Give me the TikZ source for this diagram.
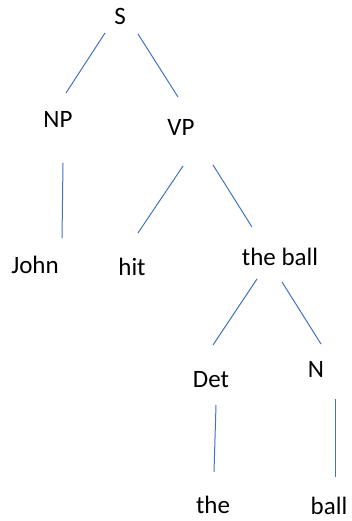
\documentclass[tikz,border=0pt]{standalone}
\usepackage{fontspec}
\setmainfont{Carlito}
\definecolor{edgeblue}{HTML}{4472C4}
\begin{document}
\begin{tikzpicture}[x=1pt,y=-1pt,
  lbl/.style={anchor=base,inner sep=0pt,font=\fontsize{25}{30}\selectfont,text=black},
  edge/.style={draw=edgeblue,line width=1pt}]
\useasboundingbox (0,0) rectangle (352,521);
% labels
\node[lbl] (S) at (120,25) {S};
\node[lbl] (NP) at (58,128) {NP};
\node[lbl] (VP) at (181,136) {VP};
\node[lbl] (John) at (35,273) {John};
\node[lbl] (hit) at (132,275) {hit};
\node[lbl] (theball) at (280,265) {the ball};
\node[lbl] (Det) at (211,387) {Det};
\node[lbl] (N) at (316,377) {N};
\node[lbl] (the) at (213,513) {the};
\node[lbl] (ball) at (329,514) {ball};
% connector ends
\coordinate (S-a) at (105,33);  \coordinate (NP-t) at (66,93);
\coordinate (S-b) at (138,34);  \coordinate (VP-t) at (178,97);
\coordinate (NP-b) at (63,163); \coordinate (John-t) at (62,238);
\coordinate (VP-a) at (183,166); \coordinate (hit-t) at (138,233);
\coordinate (VP-b) at (213,165); \coordinate (theball-t) at (252,227);
\coordinate (theball-a) at (257,279); \coordinate (Det-t) at (213,345);
\coordinate (theball-b) at (282,282); \coordinate (N-t) at (321,344);
\coordinate (Det-b) at (216,405); \coordinate (the-t) at (214,472);
\coordinate (N-b) at (335,399); \coordinate (ball-t) at (335,477);
% connectors
\draw[edge] (S-a) -- (NP-t);
\draw[edge] (S-b) -- (VP-t);
\draw[edge] (NP-b) -- (John-t);
\draw[edge] (VP-a) -- (hit-t);
\draw[edge] (VP-b) -- (theball-t);
\draw[edge] (theball-a) -- (Det-t);
\draw[edge] (theball-b) -- (N-t);
\draw[edge] (Det-b) -- (the-t);
\draw[edge] (N-b) -- (ball-t);
\end{tikzpicture}
\end{document}
